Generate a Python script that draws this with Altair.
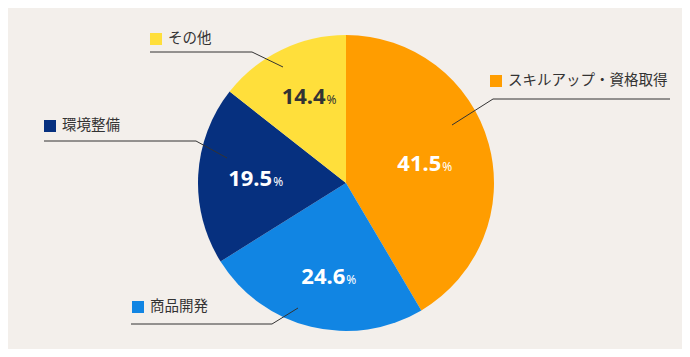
import altair as alt
import pandas as pd
import math

# ---- data ----
categories = ["スキルアップ・資格取得", "商品開発", "環境整備", "その他"]
values = [41.5, 24.6, 19.5, 14.4]
colors = ["#FF9D00", "#1185E3", "#06307F", "#FFDF3B"]
value_colors = ["#FFFFFF", "#FFFFFF", "#FFFFFF", "#333333"]

# ---- layout (page pixel coords) ----
label_radius = [76, 96, 96, 97]
legend_x = [496, 138, 50, 156]
legend_y = [81, 307, 126, 39]
line_start_x = [670, 131, 44, 150]
line_y = [99, 324, 141, 52]
elbow_x = [493, 272, 196, 252]
tip_x = [452, 298, 227, 283]
tip_y = [125, 308, 158, 67]

CX, CY, R = 346 - 8, 183 - 8, 148
W, H = 674, 341

total = sum(values)
mids = []
acc = 0.0
for v in values:
    mids.append((acc + v / 2) / total * 2 * math.pi)
    acc += v

df = pd.DataFrame({
    "name": categories,
    "value": values,
    "order": list(range(len(categories))),
    "color": colors,
    "vcolor": value_colors,
    "r": label_radius,
    "mid": mids,
    "label": [f"{v:.1f}" for v in values],
})

xs = alt.Scale(domain=[8, 8 + W], range=[0, W])
ys = alt.Scale(domain=[8, 8 + H], range=[0, H])

pie = alt.Chart(df).mark_arc(radius=R, stroke=None).encode(
    theta=alt.Theta("value:Q", stack=True),
    order=alt.Order("order:Q"),
    x=alt.value(CX), y=alt.value(CY),
    color=alt.Color("color:N", scale=None),
)

tbase = alt.Chart(df).encode(
    theta=alt.Theta("mid:Q", scale=None),
    radius=alt.Radius("r:Q", scale=None),
    x=alt.value(CX), y=alt.value(CY),
    color=alt.Color("vcolor:N", scale=None),
)

nums = tbase.mark_text(font="Noto Sans", fontWeight="bold", fontSize=22,
                       align="center", baseline="alphabetic", dy=8).encode(
    text="label:N",
)

pct = tbase.mark_text(font="Noto Sans", fontSize=12, align="left",
                      baseline="alphabetic", dy=8, dx=23).encode(
    text=alt.value("%"),
)

# leader lines
rows = []
for i, n in enumerate(categories):
    rows.append({"name": n, "k": 0, "px": line_start_x[i], "py": line_y[i]})
    rows.append({"name": n, "k": 1, "px": elbow_x[i], "py": line_y[i]})
    rows.append({"name": n, "k": 2, "px": tip_x[i], "py": tip_y[i]})
ldf = pd.DataFrame(rows)

lines = alt.Chart(ldf).mark_line(color="#333333", strokeWidth=1).encode(
    x=alt.X("px:Q", scale=xs, axis=None),
    y=alt.Y("py:Q", scale=ys, axis=None),
    detail="name:N",
    order="k:Q",
)

gdf = pd.DataFrame({"name": categories, "gx": legend_x, "gy": legend_y, "color": colors})
squares = alt.Chart(gdf).mark_square(size=144, opacity=1).encode(
    x=alt.X("gx:Q", scale=xs, axis=None),
    y=alt.Y("gy:Q", scale=ys, axis=None),
    color=alt.Color("color:N", scale=None),
)
names = alt.Chart(gdf).mark_text(font="Noto Sans CJK JP", fontSize=14.5, color="#333333",
                                 align="left", baseline="middle", dx=12).encode(
    x=alt.X("gx:Q", scale=xs, axis=None),
    y=alt.Y("gy:Q", scale=ys, axis=None),
    text="name:N",
)

chart = alt.layer(pie, nums, pct, lines, squares, names).properties(
    width=W, height=H,
    autosize=alt.AutoSizeParams(type="none"),
    padding=0,
    background="#F3EFEB",
).configure_view(stroke=None)

chart.save("out.html", embed_options={"renderer": "svg", "actions": False})
